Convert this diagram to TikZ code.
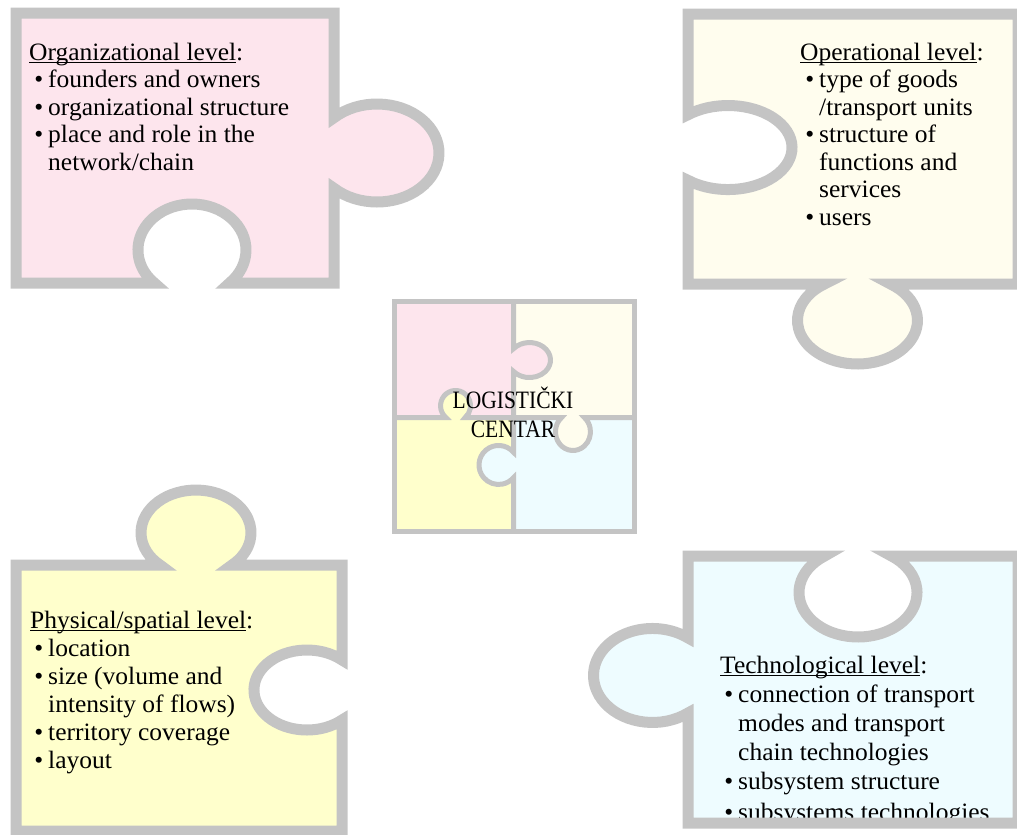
\documentclass[tikz,border=0pt]{standalone}
\usepackage{fontspec}
\setmainfont{Liberation Serif}[FakeStretch=1.02]
\newfontfamily\ctrfont{Liberation Serif}[FakeStretch=0.86]
\definecolor{pk}{RGB}{253,229,237}
\definecolor{cr}{RGB}{255,253,238}
\definecolor{yl}{RGB}{255,255,204}
\definecolor{cy}{RGB}{238,252,255}
\definecolor{frame}{RGB}{196,196,196}
\newcommand\myul[1]{\setbox0\hbox{#1}\rlap{\rule[-3.2pt]{\wd0}{1.4pt}}\box0}
\newcommand\bul{\llap{\textbullet\hspace{5pt}}}
\tikzset{
  piece/.style={draw=frame, line width=11pt},
  cpiece/.style={draw=frame, line width=5pt},
  txt/.style={anchor=base west, inner sep=0pt, font=\fontsize{25}{30}\selectfont},
  ctxt/.style={anchor=base, inner sep=0pt, font=\ctrfont\fontsize{25}{29}\selectfont},
}
\def\orgpath{(16,13) -- (334,13) -- (334,117.7) arc[start angle=226.1, end angle=493.9, x radius=62, y radius=49] -- (334,283) -- (229.6,283) arc[start angle=45.84, end angle=-225.84, x radius=54, y radius=46] -- (16,283) -- cycle}
\def\oppath{(688,14) -- (1018,14) -- (1018,284) -- (890.5,284) arc[start angle=-56.6, end angle=236.6, x radius=60, y radius=43.6] -- (688,284) -- (688,180.3) arc[start angle=128.7, end angle=-128.7, x radius=64, y radius=42] -- cycle}
\def\phpath{(16,565) -- (160,565) arc[start angle=130.9, end angle=409.1, x radius=55, y radius=42.7] -- (342,565) -- (342,660) arc[start angle=-48.6, end angle=-311.4, x radius=53, y radius=40] -- (342,831) -- (16,831) -- cycle}
\def\tepath{(688,556) -- (824.6,556) arc[start angle=-124.5, end angle=-415.5, x radius=59, y radius=44.4] -- (1018,556) -- (1018,823) -- (688,823) -- (688,713) arc[start angle=53, end angle=307, x radius=59, y radius=47] -- cycle}
\begin{document}
\begin{tikzpicture}[x=1pt,y=-1pt]
\useasboundingbox (0,0) rectangle (1017,835);
% big pieces: fills
\fill[pk] \orgpath;
\fill[cr] \oppath;
\fill[yl] \phpath;
\fill[cy] \tepath;
% texts
\node[txt] (o0) at (29,60) {\myul{Organizational level}:};
\node[txt] (o1) at (48,87.5) {\bul founders and owners};
\node[txt] (o2) at (48,115) {\bul organizational structure};
\node[txt] (o3) at (48,142.5) {\bul place and role in the};
\node[txt] (o4) at (48,170) {network/chain};
\node[txt] (p0) at (800,60) {\myul{Operational level}:};
\node[txt] (p1) at (819,87.5) {\bul type of goods};
\node[txt] (p2) at (819,115) {/transport units};
\node[txt] (p3) at (819,142.5) {\bul structure of};
\node[txt] (p4) at (819,170) {functions and};
\node[txt] (p5) at (819,197.5) {services};
\node[txt] (p6) at (819,225) {\bul users};
\node[txt] (y0) at (30,628) {\myul{Physical/spatial level}:};
\node[txt] (y1) at (48,656) {\bul location};
\node[txt] (y2) at (48,684) {\bul size (volume and};
\node[txt] (y3) at (48,712) {intensity of flows)};
\node[txt] (y4) at (48,740) {\bul territory coverage};
\node[txt] (y5) at (48,768) {\bul layout};
\node[txt] (t0) at (720,673) {\myul{Technological level}:};
\node[txt] (t1) at (738,702) {\bul connection of transport};
\node[txt] (t2) at (738,731) {modes and transport};
\node[txt] (t3) at (738,760) {chain technologies};
\node[txt] (t4) at (738,789.5) {\bul subsystem structure};
\node[txt] (t5) at (738,820) {\bul subsystems technologies};
% big pieces: outlines
\draw[piece] \orgpath;
\draw[piece] \oppath;
\draw[piece] \phpath;
\draw[piece] \tepath;
% centre puzzle
\fill[pk] (394,301) rectangle (513.5,417.5);
\fill[cr] (513.5,301) rectangle (634,417.5);
\fill[yl] (394,417.5) rectangle (513.5,531);
\fill[cy] (513.5,417.5) rectangle (634,531);
\fill[pk] (529.5,360) ellipse[x radius=21, y radius=17.5];
\fill[cr] (573,431.75) ellipse[x radius=17.5, y radius=18.75];
\fill[cy] (498.6,465) ellipse[x radius=19.6, y radius=19.5];
\fill[yl] (455.5,405.8) ellipse[x radius=15, y radius=15.3];
\draw[cpiece] (513.5,301) -- (513.5,348.7) arc[start angle=220.4, end angle=499.6, x radius=21, y radius=17.5] -- (513.5,452.3) arc[start angle=-40.5, end angle=-319.5, x radius=19.6, y radius=19.5] -- (513.5,531);
\draw[cpiece] (394,417.5) -- (445.9,417.5) arc[start angle=130, end angle=410, x radius=15, y radius=15.3] -- (561.6,417.5) arc[start angle=229.5, end angle=-49.5, x radius=17.5, y radius=18.75] -- (634,417.5);
\draw[cpiece] (394,301) rectangle (634,531);
\node[ctxt] (c1) at (513,408) {LOGISTIČKI};
\node[ctxt] (c2) at (513,437) {CENTAR};
\end{tikzpicture}
\end{document}
